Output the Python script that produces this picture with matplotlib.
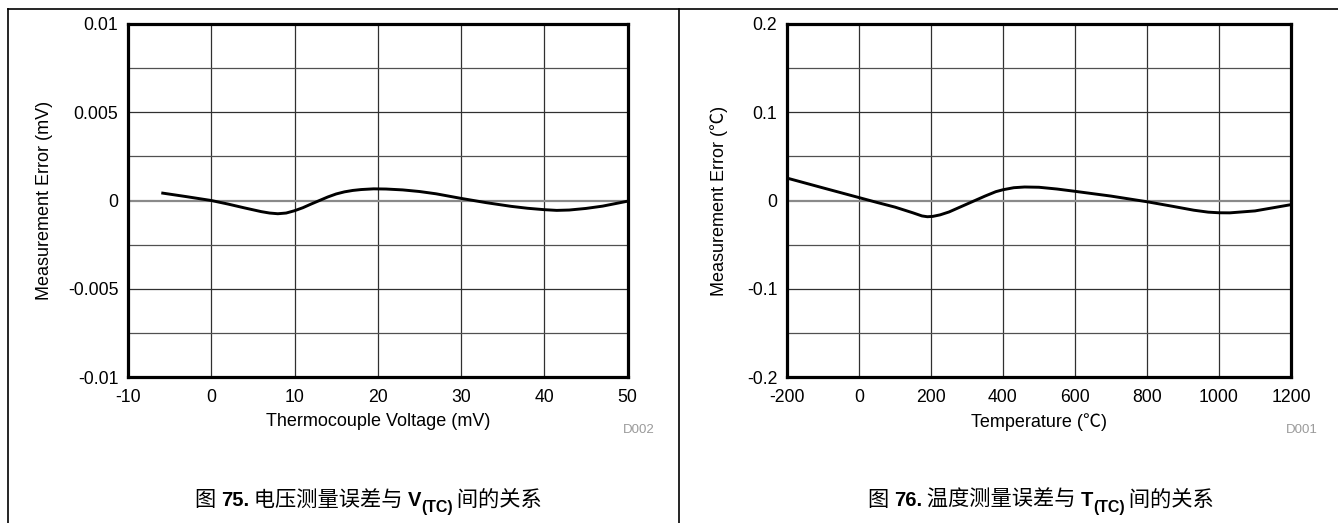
import matplotlib
matplotlib.use("Agg")
import matplotlib.pyplot as plt
from matplotlib.lines import Line2D

plt.rcParams['font.family'] = ['Liberation Sans', 'Noto Sans CJK SC', 'DejaVu Sans']
plt.rcParams['axes.unicode_minus'] = False

# ---------------- data ----------------
volt_x = [-6, -3, 0, 2, 4, 6, 7, 8, 9, 10, 11, 12, 13, 14, 15, 16, 17, 18, 19.5, 21, 23, 25, 27, 30,
          33, 36, 38, 40, 41.5, 43, 45, 47, 50]
volt_err = [0.00043, 0.00022, 0.0, -0.0002, -0.00042, -0.00063, -0.00071, -0.00075, -0.00071, -0.00058,
            -0.00041, -0.0002, 0.0, 0.0002, 0.00037, 0.00049, 0.00057, 0.00062, 0.00066, 0.00065, 0.0006,
            0.00051, 0.00038, 0.00012, -0.00012, -0.00033, -0.00044, -0.00052, -0.00056, -0.00054,
            -0.00045, -0.00032, -0.00004]

temp_x = [-200, -100, 0, 50, 100, 150, 175, 190, 205, 225, 250, 300, 350, 380, 400, 430, 460, 500, 550,
          600, 700, 800, 870, 930, 970, 1000, 1030, 1100, 1200]
temp_err = [0.0254, 0.0143, 0.0033, -0.0022, -0.0075, -0.0140, -0.0175, -0.0184, -0.0180, -0.0163, -0.0130,
            -0.0040, 0.0050, 0.0100, 0.0122, 0.0145, 0.0153, 0.0150, 0.0130, 0.0104, 0.0050, -0.0014,
            -0.0065, -0.0110, -0.0132, -0.0139, -0.0140, -0.0118, -0.0047]

volt_xticks = [-10, 0, 10, 20, 30, 40, 50]
volt_yticks = [-0.01, -0.005, 0, 0.005, 0.01]
volt_yticklabels = ['-0.01', '-0.005', '0', '0.005', '0.01']
volt_ygrid = [-0.0075, -0.0025, 0.0025, 0.0075]

temp_xticks = [-200, 0, 200, 400, 600, 800, 1000, 1200]
temp_yticks = [-0.2, -0.1, 0, 0.1, 0.2]
temp_yticklabels = ['-0.2', '-0.1', '0', '0.1', '0.2']
temp_ygrid = [-0.15, -0.05, 0.05, 0.15]

W, H = 1338, 523
fig = plt.figure(figsize=(W / 100, H / 100), dpi=100)


def fx(px):
    return px / W


def fy(py):
    return 1 - py / H


def make_axes(left, right, top, bottom, x, y, xticks, yticks, ylabels, ygrid, xlabel, ylabel,
              ylabel_x, code, code_x):
    ax = fig.add_axes([fx(left), fy(bottom), fx(right - left), (bottom - top) / H])
    ax.set_xlim(xticks[0], xticks[-1])
    ax.set_ylim(yticks[0], yticks[-1])
    for xv in xticks[1:-1]:
        ax.axvline(xv, color='#303030', lw=0.9, zorder=1)
    for yv in yticks[1:-1]:
        if yv == 0:
            ax.axhline(yv, color='#8a8a8a', lw=1.6, zorder=1)
        else:
            ax.axhline(yv, color='#303030', lw=0.9, zorder=1)
    for yv in ygrid:
        ax.axhline(yv, color='#505050', lw=0.9, zorder=1)
    ax.plot(x, y, color='black', lw=2.1, zorder=3, solid_capstyle='butt', solid_joinstyle='round')
    ax.set_xticks(xticks)
    ax.set_yticks(yticks)
    ax.set_yticklabels(ylabels)
    ax.tick_params(length=0, labelsize=12.7, colors='black')
    ax.tick_params(axis='y', pad=7)
    ax.tick_params(axis='x', pad=9)
    for s in ax.spines.values():
        s.set_linewidth(2.3)
        s.set_color('black')
        s.set_zorder(4)
    ax.set_xlabel(xlabel, fontsize=13, labelpad=4.5)
    ax.set_ylabel(ylabel, fontsize=13)
    ax.yaxis.set_label_coords((ylabel_x - left) / (right - left), 0.5)
    fig.text(fx(code_x), fy(430), code, fontsize=9.5, color='#9a9a9a', ha='right', va='center')
    return ax


make_axes(128, 627.5, 24, 377, volt_x, volt_err, volt_xticks, volt_yticks, volt_yticklabels, volt_ygrid,
          'Thermocouple Voltage (mV)', 'Measurement Error (mV)', 53, 'D002', 655)
make_axes(787, 1291, 24, 377, temp_x, temp_err, temp_xticks, temp_yticks, temp_yticklabels, temp_ygrid,
          'Temperature (℃)', 'Measurement Error (℃)', 728, 'D001', 1318)

# frame lines
fig.add_artist(Line2D([fx(8), fx(W)], [fy(9), fy(9)], color='black', lw=1.2))
fig.add_artist(Line2D([fx(8), fx(8)], [fy(9), 0], color='black', lw=1.2))
fig.add_artist(Line2D([fx(679), fx(679)], [fy(9), 0], color='black', lw=1.2))

# captions built from pieces
CJK = ['Noto Sans CJK SC', 'DejaVu Sans']
LAT = ['Liberation Sans', 'DejaVu Sans']


def caption(x0, y0, pieces):
    fig.canvas.draw()
    r = fig.canvas.get_renderer()
    x = x0
    for txt, fam, weight, size, dy in pieces:
        t = fig.text(fx(x), fy(y0 + dy), txt, family=fam, fontweight=weight, fontsize=size,
                     ha='left', va='baseline')
        bb = t.get_window_extent(renderer=r)
        x += bb.width


caption(195, 506, [
    ('图 ', CJK, 'normal', 15.3, 0),
    ('75.', LAT, 'bold', 14.5, 0),
    (' 电压测量误差与 ', CJK, 'normal', 15.3, 0),
    ('V', LAT, 'bold', 14.5, 0),
    ('(TC)', LAT, 'bold', 11.5, 6),
    (' 间的关系', CJK, 'normal', 15.3, 0),
])
caption(868, 506, [
    ('图 ', CJK, 'normal', 15.3, 0),
    ('76.', LAT, 'bold', 14.5, 0),
    (' 温度测量误差与 ', CJK, 'normal', 15.3, 0),
    ('T', LAT, 'bold', 14.5, 0),
    ('(TC)', LAT, 'bold', 11.5, 6),
    (' 间的关系', CJK, 'normal', 15.3, 0),
])

fig.savefig('out.png', dpi=100)
